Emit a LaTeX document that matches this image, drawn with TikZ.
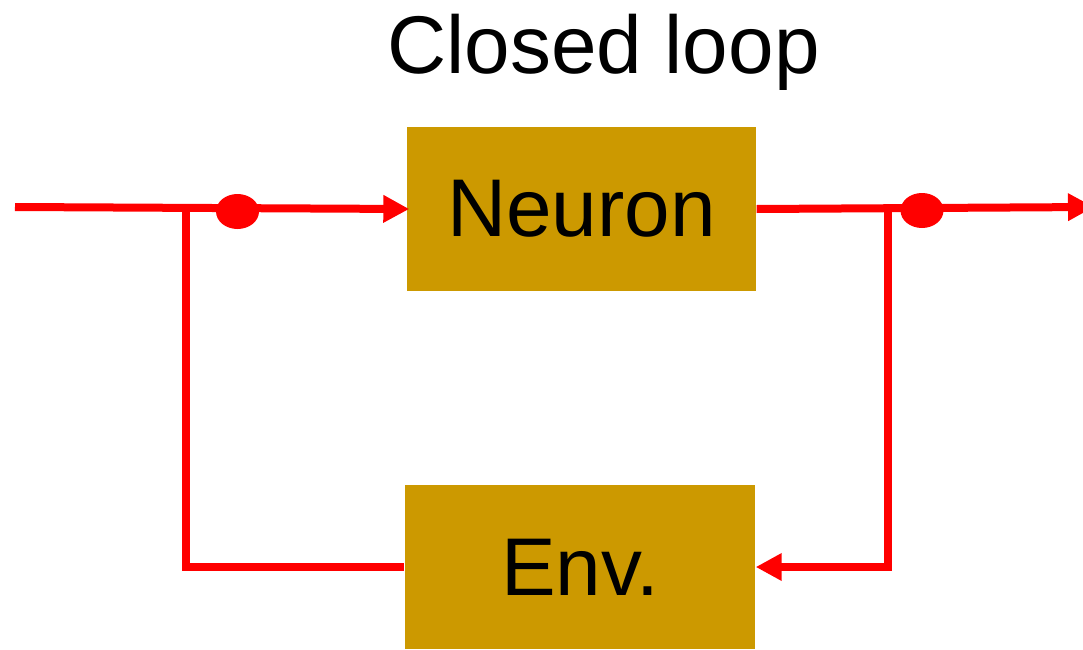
\documentclass[tikz,border=0pt]{standalone}
\usepackage{fontspec}
\setmainfont{Liberation Sans}
\usetikzlibrary{arrows.meta, positioning, shapes}

\definecolor{boxgold}{HTML}{CC9900}

\begin{document}
\begin{tikzpicture}[>={Triangle[length=2.6mm,width=2.6mm]},node distance=3.58cm,on grid,
every node/.style={font=\fontsize{23.3}{28}\selectfont},
block/.style={fill=boxgold,draw=none,minimum width=3.49cm,minimum height=1.64cm,inner sep=0pt},
wire/.style={draw=red,line width=0.08cm},
junction/.style={ellipse,fill=red,minimum width=0.43cm,minimum height=0.35cm,inner sep=0pt}]
\useasboundingbox (0,0) rectangle (10.83,6.49);
\node[block] (neuron) at (5.815,4.40) {Neuron};
\node[block] (env) [below=of neuron,xshift=-0.15mm,minimum width=3.5cm] {Env.};
\node[anchor=base] (title) at (6.035,5.76) {Closed loop};
% loose ends and branch points of the loop
\coordinate (in) at (0.15,4.42);
\coordinate (out) at (10.94,4.42);
\coordinate (split) at (1.855,4.41);
\coordinate (pick) at (8.875,4.40);
\path[wire,->] (in) -- ([xshift=0.3mm]neuron.west);
\path[wire,->] (neuron.east) -- (out);
\path[wire] (split) |- (env.west);
\path[wire,->] (pick) |- (env.east);
\node[junction] (dotin) at (2.375,4.375) {};
\node[junction] (dotout) at (9.22,4.385) {};
\end{tikzpicture}
\end{document}
